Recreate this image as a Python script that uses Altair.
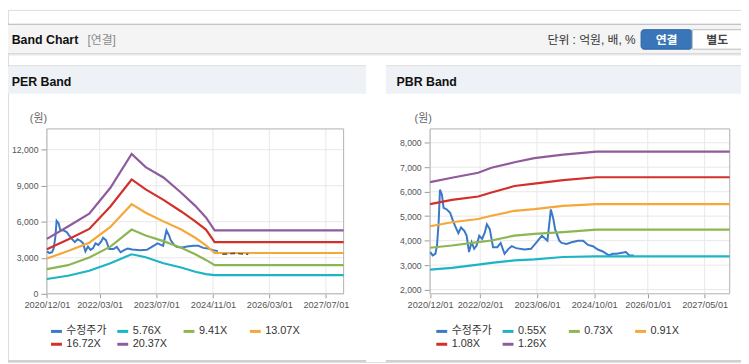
import altair as alt
import pandas as pd

# ---------------- data ----------------
price_dates = ["2020-12-03", "2020-12-23", "2021-01-15", "2021-01-29", "2021-02-12", "2021-02-23",
               "2021-03-12", "2021-03-26", "2021-04-23", "2021-05-21", "2021-06-10", "2021-07-02",
               "2021-07-30", "2021-08-22", "2021-09-19", "2021-10-09", "2021-10-29", "2021-11-20",
               "2021-12-12", "2022-01-02", "2022-01-24", "2022-02-18", "2022-03-13", "2022-03-30",
               "2022-04-24", "2022-05-22", "2022-06-28", "2022-07-26", "2022-08-28", "2022-10-01",
               "2022-10-29", "2022-12-05", "2023-02-13", "2023-04-11", "2023-05-17", "2023-07-13",
               "2023-08-29", "2023-09-27", "2023-10-19", "2023-11-02", "2023-12-08", "2023-12-28",
               "2024-02-09", "2024-03-22", "2024-05-16", "2024-06-28", "2024-08-09", "2024-09-20",
               "2024-11-01", "2024-12-13", "2025-02-02", "2025-03-08", "2025-04-11", "2025-06-29",
               "2025-07-27", "2025-09-04"]
price_values = [3531, 3395, 3463, 3797, 4739, 6080,
                5879, 5343, 5275, 5142, 4872, 4602,
                4308, 4538, 4401, 4200, 3531, 3934,
                3664, 3797, 4200, 4067, 4337, 4671,
                4469, 3733, 3733, 3906, 3463, 3664,
                3773, 3692, 3636, 3664, 3866, 4200,
                3998, 5275, 4872, 4469, 3998, 3906,
                3866, 3934, 3998, 3998, 3825, 3773,
                3636, 3556, 3395, 3463, 3463, 3531,
                3395, 3395]
per_price_end = "2024-12-13"

per_dash_dates = ["2025-01-20", "2025-05-01", "2025-09-01"]
per_dash_values = [3290, 3370, 3290]

per_names = ["수정주가", "5.76X", "9.41X", "13.07X", "16.72X", "20.37X"]
per_band_dates = ["2020-12-01", "2021-06-01", "2021-12-01", "2022-06-01", "2022-12-01", "2023-04-01",
                  "2023-09-01", "2024-02-01", "2024-06-01", "2024-09-01", "2024-11-15", "2027-12-01"]
per_576 = [1235, 1506, 1918, 2551, 3292, 3050, 2551, 2197, 1835, 1646, 1564, 1564]
per_941 = [2058, 2387, 3020, 3926, 5350, 4850, 4387, 3843, 3292, 2823, 2387, 2387]
per_1307 = [2938, 3564, 4255, 5572, 7465, 6750, 6033, 5350, 4666, 4033, 3400, 3400]
per_1672 = [3704, 4527, 5407, 7267, 9522, 8700, 7819, 6856, 6033, 5350, 4304, 4304]
per_2037 = [4580, 5600, 6670, 8830, 11650, 10550, 9686, 8420, 7325, 6362, 5290, 5290]

pbr_names = ["수정주가", "0.55X", "0.73X", "0.91X", "1.08X", "1.26X"]
pbr_band_dates = ["2020-12-01", "2021-06-05", "2022-01-15", "2022-05-08", "2022-11-21",
                  "2023-05-09", "2024-01-10", "2024-10-19", "2027-12-01"]
pbr_055 = [2818, 2887, 3020, 3089, 3194, 3235, 3332, 3356, 3356]
pbr_073 = [3709, 3802, 3940, 4004, 4207, 4276, 4345, 4450, 4450]
pbr_091 = [4587, 4750, 4883, 5017, 5219, 5288, 5422, 5495, 5495]
pbr_108 = [5491, 5665, 5803, 5965, 6232, 6329, 6475, 6590, 6590]
pbr_126 = [6394, 6572, 6775, 6977, 7204, 7370, 7516, 7637, 7637]

per_x_ticks = ["2020/12/01", "2022/03/01", "2023/07/01", "2024/11/01", "2026/03/01", "2027/07/01"]
per_y_ticks = [0, 3000, 6000, 9000, 12000]
pbr_x_ticks = ["2020/12/01", "2022/02/01", "2023/06/01", "2024/10/01", "2026/01/01", "2027/05/01"]
pbr_y_ticks = [2000, 3000, 4000, 5000, 6000, 7000, 8000]

x_start, x_end = "2020-12-01", "2027-12-01"

line_colors = ["#3a78c9", "#1db4c6", "#8db652", "#f5a73a", "#d1302b", "#8e5b9c"]

# ---------------- layout ----------------
W, H = 741, 356
FONT = "Liberation Sans, Noto Sans CJK KR, sans-serif"
one = alt.InlineData(values=[{"k": 0}])


def dt(s):
    y, m, d = (int(p) for p in s.replace("-", "/").split("/"))
    return alt.DateTime(year=y, month=m, date=d, utc=True)


def txt(s, x, y, size=12, color="#333333", weight="normal", align="left"):
    return alt.Chart(one).mark_text(text=s, fontSize=size, color=color, fontWeight=weight,
                                    align=align, baseline="middle", font=FONT).encode(
        x=alt.value(x), y=alt.value(y))


def box(x, x2, y, y2, **kw):
    return alt.Chart(one).mark_rect(**kw).encode(
        x=alt.value(x), x2=alt.value(x2), y=alt.value(y), y2=alt.value(y2))


def hline(x, x2, y, color, width=1):
    return alt.Chart(one).mark_rule(color=color, strokeWidth=width).encode(
        x=alt.value(x), x2=alt.value(x2), y=alt.value(y))


def panel(names, band_dates, bands, p_dates, p_values, x_ticks, y_ticks, y_dom,
          x0, x1, y_top, y_bot, leg_x, leg_y, extra=None):
    xs = alt.Scale(type="utc", domain=[dt(x_start), dt(x_end)], range=[x0, x1], nice=False)
    ys = alt.Scale(domain=y_dom, range=[y_bot, y_top], nice=False, zero=False)
    cs = alt.Scale(domain=names, range=line_colors)
    xa = alt.Axis(orient="bottom", offset=y_bot - H, values=[dt(t) for t in x_ticks],
                  format="%Y/%m/%d", grid=False, domain=False, tickSize=4, tickColor="#9a9a9a",
                  labelColor="#555555", labelFontSize=9.3, labelPadding=3, labelOverlap=False,
                  labelFlush=False, labelFont=FONT, title=None)
    ya = alt.Axis(orient="left", offset=-x0, values=y_ticks, format=",d", grid=False,
                  domain=False, tickSize=6, tickColor="#9a9a9a", labelColor="#555555",
                  labelFontSize=8.8, labelPadding=3, labelFont=FONT, title=None)
    lg = alt.Legend(orient="none", legendX=leg_x, legendY=leg_y, direction="horizontal",
                    columns=4, title=None,
                    symbolType="stroke", symbolSize=121, symbolStrokeWidth=3,
                    labelFontSize=11, labelFont=FONT, labelColor="#333333", labelOffset=3,
                    columnPadding=4, rowPadding=0, gridAlign="all", padding=0)

    X = alt.X("date:T", scale=xs, axis=xa)
    Y = alt.Y("value:Q", scale=ys, axis=ya)
    C = alt.Color("series:N", scale=cs, legend=lg)

    vgrid = alt.Chart(pd.DataFrame({"date": [t.replace("/", "-") for t in x_ticks]})).mark_rule(
        color="#e8e8e8", strokeWidth=1).encode(x=X, y=alt.value(y_top), y2=alt.value(y_bot))
    hgrid = alt.Chart(pd.DataFrame({"value": y_ticks})).mark_rule(
        color="#e8e8e8", strokeWidth=1).encode(y=Y, x=alt.value(x0), x2=alt.value(x1))
    border = box(x0, x1, y_top, y_bot, fillOpacity=0, stroke="#b0b0b0", strokeWidth=1)

    price_df = pd.DataFrame({"date": p_dates, "value": p_values, "series": names[0]})
    price = alt.Chart(price_df).mark_line(strokeWidth=2).encode(x=X, y=Y, color=C)

    rows = []
    for nm, vals in zip(names[1:], bands):
        for d, v in zip(band_dates, vals):
            rows.append({"date": d, "value": v, "series": nm})
    band = alt.Chart(pd.DataFrame(rows)).mark_line(strokeWidth=2.2).encode(x=X, y=Y, color=C)

    layers = [vgrid, hgrid, border, price, band]
    if extra is not None:
        ed, ev = extra
        layers.append(alt.Chart(pd.DataFrame({"date": ed, "value": ev})).mark_line(
            strokeWidth=1.5, color="#555555", strokeDash=[5, 3]).encode(x=X, y=Y))
    return alt.layer(*layers).properties(width=W, height=H)


per_p_dates = [d for d in price_dates if d <= per_price_end]
per_p_values = [v for d, v in zip(price_dates, price_values) if d <= per_price_end]

per = panel(per_names, per_band_dates, [per_576, per_941, per_1307, per_1672, per_2037],
            per_p_dates, per_p_values, per_x_ticks, per_y_ticks, [0, 13730],
            39.3, 339.3, 120.3, 287, 42, 318, extra=(per_dash_dates, per_dash_values))
pbr = panel(pbr_names, pbr_band_dates, [pbr_055, pbr_073, pbr_091, pbr_108, pbr_126],
            price_dates, price_values, pbr_x_ticks, pbr_y_ticks, [1826, 8566],
            426.7, 729.6, 120.3, 287, 431.5, 318)

deco = [
    # header
    box(0, W, 15, 44.5, fill="#f4f4f4"),
    hline(0, W, 14.5, "#b0b0b0", 1),
    hline(0, W, 44.5, "#c2c2c2", 1),
    hline(0, W, 45.5, "#e6e6e6", 1),
    txt("Band Chart", 3.7, 30, size=12.5, color="#111111", weight="bold"),
    txt("[연결]", 80.3, 30, size=12, color="#8a8a8a"),
    txt("단위 : 억원, 배, %", 634.5, 30.3, size=12, color="#333333", align="right"),
    box(640, 691.7, 20, 39.7, fill="#3876b9", stroke="#2d64a3", strokeWidth=1, cornerRadius=3),
    box(691.7, 741.5, 20, 39.7, fill="#ffffff", stroke="#bbbbbb", strokeWidth=1),
    txt("연결", 665.8, 30, size=12, color="#ffffff", weight="bold", align="center"),
    txt("별도", 717, 30, size=12, color="#444444", weight="bold", align="center"),
    # panel title bars
    box(0, 362, 57, 84.7, fill="#eef2f7"),
    hline(0, 362, 56.5, "#d8d8d8", 1),
    txt("PER Band", 3.7, 72.5, size=12.5, color="#111111", weight="bold"),
    box(382, W, 57, 84.7, fill="#eef2f7"),
    hline(382, W, 56.5, "#d8d8d8", 1),
    txt("PBR Band", 392.7, 72.5, size=12.5, color="#111111", weight="bold"),
    # unit labels
    txt("(원)", 22, 110, size=11, color="#666666"),
    txt("(원)", 411, 110, size=11, color="#666666"),
    # bottom lines
    hline(0, 362, 355, "#d0d0d0", 2),
    hline(382, W, 355, "#d0d0d0", 2),
]

chart = alt.layer(*deco, per, pbr).resolve_scale(
    x="independent", y="independent", color="independent"
).properties(
    width=W, height=H, autosize=alt.AutoSizeParams(type="none"), padding=0, background="white"
).configure_view(stroke=None).configure(font=FONT)

chart.save("out.html", embed_options={"renderer": "svg", "actions": False})
